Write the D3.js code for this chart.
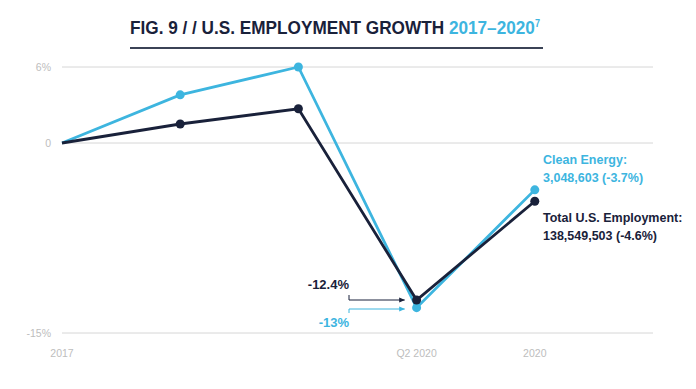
<!DOCTYPE html>
<html>
<head>
<meta charset="utf-8">
<script src="https://cdn.jsdelivr.net/npm/d3@7"></script>
<style>
  body { margin: 0; background: #fff; }
  svg { font-family: "Liberation Sans", Arial, sans-serif; }
</style>
</head>
<body>
<div id="chart"></div>
<script>
// data
const periods = ["2017", "2018", "2019", "Q2 2020", "2020", "end"];
const shownLabels = ["2017", "Q2 2020", "2020"];
const cleanEnergy = [0, 3.8, 6.0, -13.0, -3.7];
const totalEmployment = [0, 1.5, 2.7, -12.4, -4.6];
const yTicks = [6, 0, -15];
const yTickLabels = ["6%", "0", "-15%"];

const W = 696, H = 389;
const navy = "#19213a", cyan = "#3db5df", grey = "#bdbdbd";

const svg = d3.select("#chart").append("svg")
  .attr("width", W).attr("height", H);

// title (condensed look via horizontal squeeze)
const title = svg.append("text")
  .attr("transform", "translate(130,34) scale(0.905,1)")
  .attr("font-size", 19).attr("font-weight", "bold")
  .attr("fill", navy);
title.append("tspan").text("FIG. 9 / / U.S. EMPLOYMENT GROWTH ");
title.append("tspan").attr("fill", cyan).text("2017–2020");
title.append("tspan").attr("fill", cyan).attr("font-size", 10).attr("dy", -7).text("7");

svg.append("line")
  .attr("x1", 130).attr("x2", 543).attr("y1", 48).attr("y2", 48)
  .attr("stroke", "#3b4356").attr("stroke-width", 2);

const x = d3.scalePoint().domain(periods).range([62, 653]);
const y = d3.scaleLinear().domain([-15, 6]).range([333, 67]);

// grid
svg.append("g").selectAll("line").data(yTicks).join("line")
  .attr("x1", 62).attr("x2", 653)
  .attr("y1", d => y(d)).attr("y2", d => y(d))
  .attr("stroke", "#d6d6d6").attr("stroke-width", 1);

svg.append("g").selectAll("text").data(yTicks).join("text")
  .attr("x", 51).attr("y", d => y(d) + 4)
  .attr("text-anchor", "end").attr("font-size", 10.5).attr("fill", grey)
  .text((d, i) => yTickLabels[i]);

svg.append("g").selectAll("text").data(shownLabels).join("text")
  .attr("x", d => x(d)).attr("y", 357)
  .attr("text-anchor", "middle").attr("font-size", 10.5).attr("fill", grey)
  .text(d => d);

const line = d3.line().x((d, i) => x(periods[i])).y(d => y(d));

function series(vals, color) {
  svg.append("path").datum(vals)
    .attr("d", line).attr("fill", "none")
    .attr("stroke", color).attr("stroke-width", 2.8)
    .attr("stroke-linejoin", "miter");
  svg.append("g").selectAll("circle").data(vals.slice(1)).join("circle")
    .attr("cx", (d, i) => x(periods[i + 1])).attr("cy", d => y(d))
    .attr("r", 4.5).attr("fill", color);
}
series(cleanEnergy, cyan);
series(totalEmployment, navy);

// annotations near the trough
svg.append("defs").selectAll("marker").data([["an", navy], ["ac", cyan]]).join("marker")
  .attr("id", d => d[0]).attr("viewBox", "0 0 10 10").attr("refX", 9).attr("refY", 5)
  .attr("markerWidth", 6).attr("markerHeight", 6).attr("orient", "auto")
  .append("path").attr("d", "M0,1 L10,5 L0,9 Z").attr("fill", d => d[1]);

const tx = x("Q2 2020");
svg.append("text").attr("x", 349).attr("y", 289).attr("text-anchor", "end")
  .attr("font-size", 13).attr("font-weight", "bold")
  .attr("fill", navy).text(totalEmployment[3] + "%");
svg.append("path")
  .attr("d", `M349,295 V300 H${tx - 12}`)
  .attr("fill", "none").attr("stroke", navy).attr("stroke-width", 1)
  .attr("marker-end", "url(#an)");

svg.append("text").attr("x", 349).attr("y", 327).attr("text-anchor", "end")
  .attr("font-size", 13).attr("font-weight", "bold")
  .attr("fill", cyan).text(cleanEnergy[3] + "%");
svg.append("path")
  .attr("d", `M349,313 V309 H${tx - 12}`)
  .attr("fill", "none").attr("stroke", cyan).attr("stroke-width", 1)
  .attr("marker-end", "url(#ac)");

// end labels
const lab = svg.append("g").attr("font-size", 12.5).attr("font-weight", "bold");
lab.append("text").attr("x", 543).attr("y", 164).attr("fill", cyan).text("Clean Energy:");
lab.append("text").attr("x", 543).attr("y", 182).attr("fill", cyan)
  .text("3,048,603 (" + cleanEnergy[4] + "%)");
lab.append("text").attr("x", 543).attr("y", 222).attr("fill", navy).text("Total U.S. Employment:");
lab.append("text").attr("x", 543).attr("y", 240).attr("fill", navy)
  .text("138,549,503 (" + totalEmployment[4] + "%)");
</script>
</body>
</html>
